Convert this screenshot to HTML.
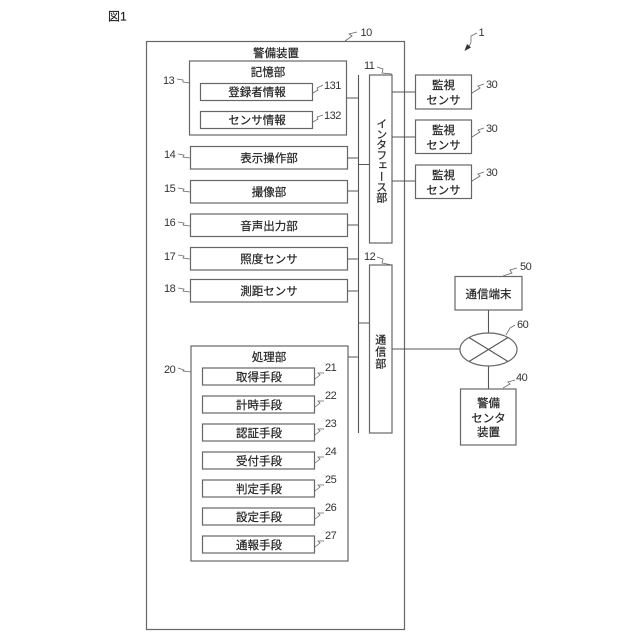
<!DOCTYPE html>
<html>
<head>
<meta charset="utf-8">
<style>
html,body{margin:0;padding:0;background:#fff}
svg{display:block}
text{font-family:"Liberation Sans","Noto Sans CJK JP",sans-serif;font-size:11.5px;fill:#222;stroke:#222;stroke-width:.18}
.c{text-anchor:middle}
.n{font-size:11px;fill:#333;stroke:none;letter-spacing:-.5px}
.b{fill:#fff;stroke:#666;stroke-width:1.2}
.l{fill:none;stroke:#555;stroke-width:1.1}
.s{fill:none;stroke:#666;stroke-width:.8}
</style>
</head>
<body>
<svg width="640" height="640" viewBox="0 0 640 640" xmlns="http://www.w3.org/2000/svg">
<text x="108" y="20.500" style="font-size:12px">図1</text>

<rect class="b" x="146.500" y="41.500" width="258" height="588"/>
<text class="c" x="276" y="57">警備装置</text>

<rect class="b" x="189.500" y="61" width="157" height="74"/>
<text class="c" x="268" y="76">記憶部</text>
<rect class="b" x="200.500" y="83.500" width="112" height="17"/>
<text class="c" x="257" y="96">登録者情報</text>
<rect class="b" x="200.500" y="111.500" width="112" height="17"/>
<text class="c" x="257" y="124">センサ情報</text>

<rect class="b" x="190.500" y="146.500" width="157" height="22.500"/>
<text class="c" x="269" y="162">表示操作部</text>
<rect class="b" x="190.500" y="180.500" width="157" height="22.500"/>
<text class="c" x="269" y="196">撮像部</text>
<rect class="b" x="190.500" y="214" width="157" height="22.500"/>
<text class="c" x="269" y="230">音声出力部</text>
<rect class="b" x="190.500" y="247.500" width="157" height="22.500"/>
<text class="c" x="269" y="263">照度センサ</text>
<rect class="b" x="190.500" y="279.500" width="157" height="22.500"/>
<text class="c" x="269" y="295">測距センサ</text>

<rect class="b" x="191" y="346" width="157" height="215"/>
<text class="c" x="269" y="361">処理部</text>
<rect class="b" x="202.500" y="368" width="112" height="17"/>
<text class="c" x="259" y="381">取得手段</text>
<rect class="b" x="202.500" y="396" width="112" height="17"/>
<text class="c" x="259" y="409">計時手段</text>
<rect class="b" x="202.500" y="424" width="112" height="17"/>
<text class="c" x="259" y="437">認証手段</text>
<rect class="b" x="202.500" y="452" width="112" height="17"/>
<text class="c" x="259" y="465">受付手段</text>
<rect class="b" x="202.500" y="480" width="112" height="17"/>
<text class="c" x="259" y="493">判定手段</text>
<rect class="b" x="202.500" y="508" width="112" height="17"/>
<text class="c" x="259" y="521">設定手段</text>
<rect class="b" x="202.500" y="536" width="112" height="17"/>
<text class="c" x="259" y="549">通報手段</text>

<path class="l" d="M358.500 75V433M346.500 98H358.500M347.500 158H358.500M347.500 191H358.500M347.500 225H358.500M347.500 259H358.500M347.500 291H358.500M348 357H358.500M358.500 164.500H369.500M358.500 323H369.500"/>

<rect class="b" x="369.500" y="75" width="22.500" height="168"/>
<text class="c" x="380.700" y="160" style="font-size:11px;writing-mode:vertical-rl;text-orientation:upright;letter-spacing:-.4px">インタフェース部</text>
<rect class="b" x="369.500" y="265" width="22.500" height="168"/>
<text class="c" x="380.700" y="343.500" style="font-size:11px">通</text>
<text class="c" x="380.700" y="355.500" style="font-size:11px">信</text>
<text class="c" x="380.700" y="367.500" style="font-size:11px">部</text>

<path class="l" d="M392 92H415.500M392 137H415.500M392 181H415.500M392 349H460M488.500 310V333M488.500 366V389"/>

<rect class="b" x="415.500" y="75" width="56" height="34"/>
<text class="c" x="443.500" y="89">監視</text><text class="c" x="443.500" y="104">センサ</text>
<rect class="b" x="415.500" y="120" width="56" height="33.500"/>
<text class="c" x="443.500" y="134">監視</text><text class="c" x="443.500" y="149">センサ</text>
<rect class="b" x="415.500" y="165" width="56" height="33.500"/>
<text class="c" x="443.500" y="179">監視</text><text class="c" x="443.500" y="194">センサ</text>

<rect class="b" x="455" y="276.500" width="67" height="33.500"/>
<text class="c" x="488.500" y="298">通信端末</text>
<ellipse class="b" cx="488.500" cy="349.500" rx="28.500" ry="16.500"/>
<path class="l" d="M469 337.500L508 361.500M508 337.500L469 361.500"/>
<rect class="b" x="460.500" y="389" width="55.500" height="56"/>
<text class="c" x="488.500" y="407">警備</text>
<text class="c" x="488.500" y="422">センタ</text>
<text class="c" x="488.500" y="436">装置</text>

<!-- reference numerals and leaders -->
<text class="n" x="360.500" y="36">10</text><path class="s" d="M345 41L352 36L349 34L357 32"/>
<text class="n" x="478.500" y="36">1</text><path class="s" d="M477 33L471 36L471 42L469 47"/><path d="M464.500 51L471 47.500L467 44Z" fill="#333"/>
<text class="n" x="364" y="69">11</text><path class="s" d="M377 67L383 69L382 73L392 74"/>
<text class="n" x="364" y="260">12</text><path class="s" d="M377 257L383 259L382 263L392 265"/>
<text class="n" x="163" y="84">13</text><path class="s" d="M177 79L183 80L183 82L190 83"/>
<text class="n" x="164" y="158">14</text><path class="s" d="M178 154L184 155L183 157L190 158"/>
<text class="n" x="164" y="192">15</text><path class="s" d="M178 188L184 189L183 191L190 192"/>
<text class="n" x="164" y="226">16</text><path class="s" d="M178 222L184 223L183 225L190 226"/>
<text class="n" x="164" y="260">17</text><path class="s" d="M178 255L184 256L183 258L190 259"/>
<text class="n" x="164" y="292">18</text><path class="s" d="M178 288L184 289L183 291L190 292"/>
<text class="n" x="164" y="373">20</text><path class="s" d="M178 368L184 370L183 371L191 372"/>
<text class="n" x="324" y="89">131</text><path class="s" d="M313 93L318 90L317 88L323 85"/>
<text class="n" x="324" y="119">132</text><path class="s" d="M313 122L318 119L317 117L323 115"/>
<text class="n" x="325" y="371">21</text><path class="s" d="M315 379L320 375L318 373L324 373"/>
<text class="n" x="325" y="399">22</text><path class="s" d="M315 407L320 403L318 401L324 401"/>
<text class="n" x="325" y="427">23</text><path class="s" d="M315 435L320 431L318 429L324 429"/>
<text class="n" x="325" y="455">24</text><path class="s" d="M315 463L320 459L318 457L324 457"/>
<text class="n" x="325" y="483">25</text><path class="s" d="M315 491L320 487L318 485L324 485"/>
<text class="n" x="325" y="511">26</text><path class="s" d="M315 519L320 515L318 513L324 513"/>
<text class="n" x="325" y="539">27</text><path class="s" d="M315 547L320 543L318 541L324 541"/>
<text class="n" x="486" y="88">30</text><path class="s" d="M472 93L480 88L478 86L484 84"/>
<text class="n" x="486" y="132">30</text><path class="s" d="M472 137L480 132L478 130L484 128"/>
<text class="n" x="486" y="176">30</text><path class="s" d="M472 181L480 176L478 174L484 172"/>
<text class="n" x="520" y="270">50</text><path class="s" d="M503 276L512 273L510 270L517 268"/>
<text class="n" x="517" y="328">60</text><path class="s" d="M506 335L510 328L515 325"/>
<text class="n" x="516" y="381">40</text><path class="s" d="M503 388L510 384L508 382L515 380"/>
</svg>
</body>
</html>
